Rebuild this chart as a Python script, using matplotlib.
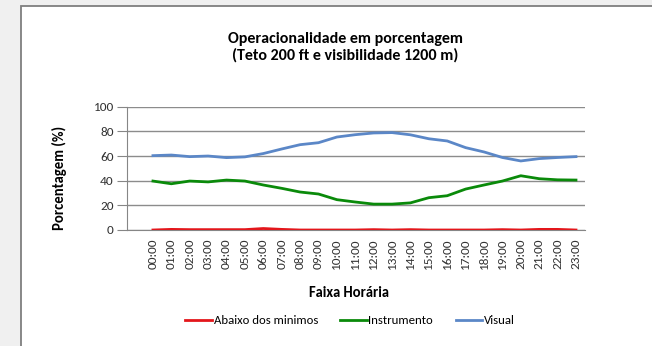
import matplotlib.pyplot as plt
from matplotlib.patches import Rectangle

plt.rcParams['font.family'] = ['Carlito', 'Lato', 'DejaVu Sans']

horas = ['%02d:00' % h for h in range(24)]
abaixo = [0.0, 0.5, 0.3, 0.3, 0.3, 0.3, 1.2, 0.5, 0.0, 0.0, 0.0, 0.0,
          0.3, 0.0, 0.3, 0.0, 0.0, 0.0, 0.0, 0.3, 0.0, 0.5, 0.5, 0.0]
instrumento = [39.7, 37.5, 39.7, 39.0, 40.5, 39.7, 36.5, 33.8, 30.8, 29.2, 24.6, 22.7,
               21.0, 21.0, 22.0, 26.2, 27.8, 33.2, 36.5, 39.7, 44.0, 41.6, 40.7, 40.5]
visual = [60.3, 60.8, 59.5, 60.0, 58.7, 59.3, 62.0, 65.7, 69.2, 70.8, 75.4, 77.3,
          78.7, 79.0, 77.2, 74.0, 72.2, 66.8, 63.3, 58.8, 56.0, 57.9, 58.8, 59.5]

fig = plt.figure(figsize=(6.52, 3.46), dpi=100)
fig.patch.set_facecolor('#f0f0f0')
# white chart area with its frame, running off the right and bottom edges
fig.patches.append(Rectangle((21 / 652, -0.05), 1.0, 1.05 - 6 / 346,
                             transform=fig.transFigure, facecolor='white',
                             edgecolor='#7f7f7f', linewidth=1.3, zorder=-5))

ax = fig.add_axes([127 / 652, 1 - 230 / 346, 458 / 652, 123.3 / 346])
ax.set_zorder(2)
ax.set_facecolor('none')
x = list(range(len(horas)))
ax.plot(x, abaixo, color='#e3161b', lw=2, label='Abaixo dos minimos', zorder=3)
ax.plot(x, instrumento, color='#0a8a0a', lw=2, label='Instrumento', zorder=3)
ax.plot(x, visual, color='#5b87c7', lw=2, label='Visual', zorder=3)

ax.set_xlim(-1.41, 23.49)
ax.set_ylim(0, 100)
ax.set_yticks(range(0, 101, 20))
ax.set_xticks(x)
ax.set_xticklabels(horas, rotation=90, fontsize=9.5, color='#333333')
ax.tick_params(axis='x', length=0, pad=6)
ax.tick_params(axis='y', length=7, color='#868686', labelsize=9.5,
               labelcolor='#333333', pad=2.5)
ax.grid(axis='y', color='#8c8c8c', lw=1)
ax.set_axisbelow(True)
for s in ['top', 'right']:
    ax.spines[s].set_visible(False)
ax.spines['left'].set_color('#868686')
ax.spines['bottom'].set_color('#868686')

ax.set_ylabel('Porcentagem (%)', fontsize=10.5, fontweight='bold')
ax.yaxis.set_label_coords(-0.132, 0.42)
fig.text(349 / 652, 1 - 293 / 346, 'Faixa Horária', fontsize=10.5,
         fontweight='bold', ha='center', va='center')
fig.text(345 / 652, 1 - 47.5 / 346,
         'Operacionalidade em porcentagem\n(Teto 200 ft e visibilidade 1200 m)',
         fontsize=11.5, fontweight='bold', ha='center', va='center',
         linespacing=1.2)

fig.legend(loc='center', bbox_to_anchor=(350 / 652, 1 - 321 / 346), ncol=3,
           frameon=False, fontsize=9.2, handlelength=2.05, handletextpad=0.15,
           columnspacing=1.75)

fig.savefig('out.png', dpi=100, facecolor=fig.get_facecolor())
